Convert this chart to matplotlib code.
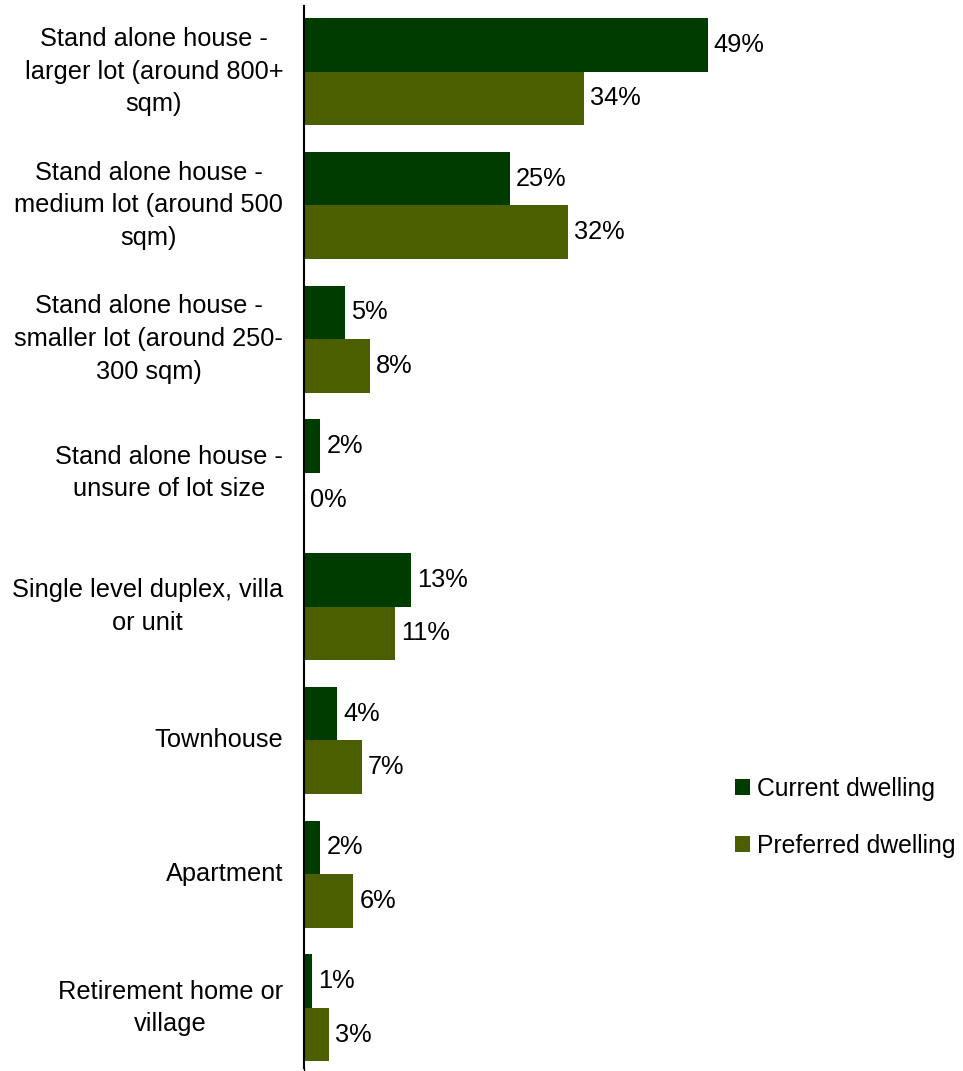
import numpy as np
import matplotlib
matplotlib.use("Agg")
import matplotlib.pyplot as plt

plt.rcParams["font.family"] = ["Liberation Sans", "DejaVu Sans"]

# Dwelling types and shares (%)
categories = [
    "Stand alone house -\nlarger lot (around 800+\nsqm)",
    "Stand alone house -\nmedium lot (around 500\nsqm)",
    "Stand alone house -\nsmaller lot (around 250-\n300 sqm)",
    "Stand alone house -\nunsure of lot size",
    "Single level duplex, villa\nor unit",
    "Townhouse",
    "Apartment",
    "Retirement home or\nvillage",
]
current = [49, 25, 5, 2, 13, 4, 2, 1]
preferred = [34, 32, 8, 0, 11, 7, 6, 3]
series_names = ["Current dwelling", "Preferred dwelling"]
colors = ["#003c00", "#4b5e00"]

fig = plt.figure(figsize=(9.63, 10.71), dpi=100)
ax = fig.add_axes([304 / 963, 1 - 1068 / 1071, 1 - 304 / 963, (1068 - 6) / 1071])

y = np.arange(len(categories))
h = 0.4
bars_cur = ax.barh(y - h / 2, current, height=h, color=colors[0], label=series_names[0])
bars_pref = ax.barh(y + h / 2, preferred, height=h, color=colors[1], label=series_names[1])

for bars, vals in [(bars_cur, current), (bars_pref, preferred)]:
    for b, v in zip(bars, vals):
        ax.text(v + 0.75, b.get_y() + b.get_height() / 2, f"{v}%",
                va="center", ha="left", fontsize=18.3)

ax.set_xlim(0, 80)
ax.set_ylim(7.45, -0.49)
ax.set_yticks(y)
ax.set_yticklabels(categories, fontsize=18.3, ha="right", va="center",
                   multialignment="center", linespacing=1.45)
ax.tick_params(axis="y", length=0, pad=15)
ax.set_xticks([0])
ax.set_xticklabels([""])
ax.tick_params(axis="x", length=5, width=1, direction="out")

for side in ["top", "right", "bottom"]:
    ax.spines[side].set_visible(False)
ax.spines["left"].set_linewidth(1.5)
ax.spines["left"].set_color("black")

ax.legend(loc="center left", bbox_to_anchor=(0.62, 0.236), frameon=False,
          fontsize=17.8, handlelength=0.6, handleheight=0.6, handletextpad=0.3,
          labelspacing=1.35)

fig.savefig("out.png", dpi=100)
